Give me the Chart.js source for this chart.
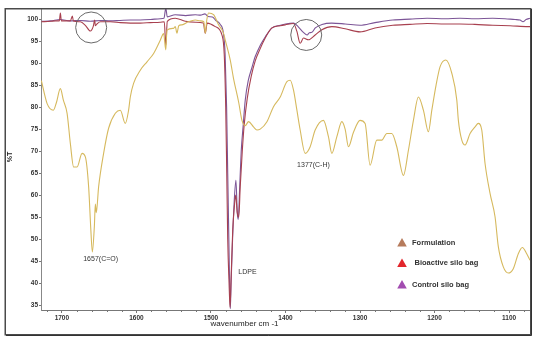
<!DOCTYPE html>
<html><head><meta charset="utf-8">
<script src="https://cdn.jsdelivr.net/npm/chart.js@4.4.1/dist/chart.umd.min.js"></script>
<style>html,body{margin:0;padding:0;background:#fff;}#wrap{width:540px;height:345px;position:relative;}</style>
</head><body><div id="wrap"><canvas id="c" width="540" height="345"></canvas></div>
<script>
// ---- data ----
const X_TICKS = [1700,1600,1500,1400,1300,1200,1100];
const X_MINOR_STEP = 20;
const Y_TICKS = [35,40,45,50,55,60,65,70,75,80,85,90,95,100];
const SERIES_NAMES = ['Formulation','Bioactive silo bag','Control silo bag'];

const W_FORM = [1727.5,1719.8,1711.4,1707.4,1702,1698,1693,1688.6,1684.2,1679.6,
1672.9,1668.5,1664.1,1661.1,1659.1,1656.4,1655.1,1653.8,1650.7,1644,
1637.3,1628.3,1621.6,1614.9,1610.5,1608.2,1603.8,1594.8,1585.8,1576.9,
1568,1563.5,1560.6,1559,1550.1,1547.9,1545.6,1543.2,1538.9,1530.4,
1521,1514.3,1509.6,1507.6,1505.6,1503.2,1496.5,1489.8,1483.5,1480.8,
1474.1,1469.7,1462.7,1458.4,1454,1449.6,1442.9,1438.3,1433.9,1424.9,
1416.1,1407.1,1398.1,1393.7,1389.3,1384.7,1380.3,1373.6,1366.9,1360.2,
1349.1,1342.4,1337.8,1331.1,1324.4,1320,1315.5,1308.8,1300,1293.2,
1286.5,1277.5,1270.8,1264.1,1257.4,1250.7,1241.8,1235.1,1228.4,1221.7,
1215,1208.3,1203.7,1198,1192.6,1185,1176.9,1170.2,1168.1,1163.5,
1159.1,1152.4,1145.7,1141.3,1136.7,1132.3,1125.6,1118.9,1114.5,1107.8,
1101.1,1094.4,1087.7,1082.3,1076.4,1072];
const T_FORM = [86,80.8,79.3,81,84.2,81.6,78.6,71.7,66.4,66.4,
69.5,68.7,61.9,52,47.1,53,58,56,61.9,69.5,
75.2,78.6,79.3,76.3,79.3,82.3,85.4,88.4,90.3,92.2,
95.2,96.7,93,97.5,97.9,98.3,96.8,98.5,98.7,99.4,
99.8,99.6,99.4,96.8,99.8,101.4,101,98.7,97,95.2,
90.7,86.5,81,77,75.8,76.7,75.5,74.8,75,76.7,
80.1,82.3,85.8,86.1,83.9,79.3,74.8,69.5,71,74.8,
77,73.3,69.5,73.3,76.7,75,71,74.3,77,76.3,
66.8,72.5,72.5,74,74,71,64.5,70.2,77,82.3,
79.3,74.4,79.3,85,89.2,90.7,87.7,81.6,77,72.5,
71.4,74,75.5,76.3,74.8,67.2,60.4,55.1,48.3,43.7,
42.3,43.3,46.7,48.1,46.7,45.2];

const W_BIO = [1727.5,1715.4,1708.7,1703.4,1702,1700.7,1688.6,1685.9,1684.6,1675.2,
1668.5,1661.8,1657.8,1656,1655.1,1652.4,1648.4,1635,1621.6,1608.2,
1594.8,1581.4,1568,1562.6,1560.6,1558.6,1547.9,1534.4,1521,1510.3,
1507.6,1505,1494.2,1485.3,1482.2,1480.2,1478.8,1477.5,1475.7,1474.4,
1472.8,1470.8,1468.8,1466.8,1464.7,1462.7,1460.7,1458,1455.4,1451.3,
1446,1440.6,1433.9,1427.2,1418.2,1407.1,1400.4,1389.3,1384.7,1380.3,
1375.9,1369.2,1360.2,1351.2,1337.8,1320,1300,1280,1256,1233,
1210,1186,1166,1146,1122,1098.8,1074.7,1072];
const T_BIO = [99.4,99.5,99.6,99.6,101.4,99.6,99.6,100.7,99.6,99.4,
98.6,97.3,98.4,99.8,98.5,99.0,99.4,99.4,99.2,99.1,
99.1,99.2,99.3,99.4,94,99.5,100.2,99.5,99.3,99.1,
96.8,99.1,98.3,96.4,92,80,65,50,40,34.5,
42,52,57,60,56,55,62,70,76,82,
87,90.5,93.3,95.7,98,98.5,98.7,99.0,97.2,94.5,
95.7,95.3,96.4,97.6,98.3,97.8,97.1,98,98.6,98.8,
99,98.9,98.9,98.8,98.6,98.5,98.3,98.3];

const W_CTRL = [1727,1715,1702,1689,1675,1662,1648,1635,1622,1608,
1595,1581,1568,1563,1560.6,1558.6,1548,1534,1521,1514,
1508,1504,1498,1494,1487.5,1483.5,1481,1479,1477.5,1476,
1475,1474,1473,1471,1469,1466.5,1464.7,1463.4,1461.4,1459.4,
1456.7,1454,1450,1445,1440.6,1434,1427,1418,1407,1400,
1389,1382.6,1376,1371,1368,1364.6,1360,1351,1338,1320,
1300,1280,1256,1233,1210,1186,1166,1146,1122,1105.5,
1092,1085.4,1081.4,1077.3,1072];
const T_CTRL = [99.5,99.6,99.9,99.6,99.7,99.5,99.7,99.6,99.7,99.8,
99.8,99.9,100.1,100.2,102.5,100.5,101,100.8,101,100.9,
101.2,100.6,100.5,99.8,98.8,97,92,80,65,50,
40,34.2,40,50,58,63.4,56,54.5,62,70,
76,81.6,86,89,91.5,94,96,98,98.6,98.9,
99.1,98.2,97,96.4,96.9,97,98,98.8,99.1,98.9,
98.6,99.2,99.8,100,100.2,100.1,100.2,100.1,100.2,100.1,
99.9,99.8,99.4,99.9,100.2];

// annotations (data coordinates)
const LABELS = [
  {text:'1657(C=O)', w:1648, t:45.5},
  {text:'LDPE', w:1451, t:42.6},
  {text:'1377(C-H)', w:1362.5, t:66.8}
];
const CIRCLES = [{w:1660.7, t:98.1}, {w:1372.2, t:96.4}];

// ---- styles ----
const LINE_COLORS = ['#d6b95e', '#a8404f', '#7c5597'];
const LEGEND_COLORS = ['#b67b5c', '#e2262c', '#a24cb0'];
const FONT = '"Liberation Sans", Arial, sans-serif';

function pts(ws, ts){ return ws.map((w,i)=>({x:w, y:ts[i]})); }

const decor = {
  id:'decor',
  beforeDraw(chart){
    const c = chart.ctx; c.save(); c.fillStyle='#fff'; c.fillRect(0,0,chart.width,chart.height); c.restore();
  },
  afterDraw(chart){
    const ctx = chart.ctx, xs = chart.scales.x, ys = chart.scales.y, ca = chart.chartArea;
    ctx.save();
    // minor x ticks
    ctx.strokeStyle = '#777'; ctx.lineWidth = 1;
    for (let v = 1080; v <= 1720; v += X_MINOR_STEP) {
      if (v % 100 === 0) continue;
      const px = Math.round(xs.getPixelForValue(v)) + 0.5;
      ctx.beginPath(); ctx.moveTo(px, ca.bottom); ctx.lineTo(px, ca.bottom + 2); ctx.stroke();
    }
    // circles
    ctx.strokeStyle = '#6a6a6a'; ctx.lineWidth = 1;
    CIRCLES.forEach(cc => {
      ctx.beginPath();
      ctx.arc(xs.getPixelForValue(cc.w), ys.getPixelForValue(cc.t), 15.5, 0, Math.PI*2);
      ctx.stroke();
    });
    // annotation texts
    ctx.fillStyle = '#333'; ctx.font = '7px ' + FONT; ctx.textAlign = 'center'; ctx.textBaseline = 'middle';
    LABELS.forEach(l => ctx.fillText(l.text, xs.getPixelForValue(l.w), ys.getPixelForValue(l.t)));
    // legend
    const lx = 402, ly = [242.5, 263, 284.5];
    SERIES_NAMES.forEach((name, i) => {
      ctx.fillStyle = LEGEND_COLORS[i];
      ctx.beginPath();
      ctx.moveTo(lx, ly[i] - 4.5); ctx.lineTo(lx + 4.8, ly[i] + 4); ctx.lineTo(lx - 4.8, ly[i] + 4); ctx.closePath();
      ctx.fill();
      ctx.fillStyle = '#333'; ctx.font = 'bold 7.5px ' + FONT; ctx.textAlign = 'left';
      ctx.fillText(name, lx + (i === 1 ? 12.5 : 10), ly[i]);
    });
    // axis titles
    ctx.fillStyle = '#222'; ctx.font = '8px ' + FONT; ctx.textAlign = 'center';
    ctx.fillText('wavenumber cm -1', 244.5, 323.5);
    ctx.save(); ctx.translate(10, 157); ctx.rotate(-Math.PI/2);
    ctx.font = 'bold 7px ' + FONT; ctx.fillText('%T', 0, 0); ctx.restore();
    // frame
    ctx.strokeStyle = '#4a4a4a'; ctx.lineWidth = 1.5;
    ctx.strokeRect(5.25, 8.75, 525.5, 326);
    ctx.strokeStyle = '#333'; ctx.lineWidth = 1;
    ctx.beginPath(); ctx.moveTo(6, 335.5); ctx.lineTo(531.5, 335.5); ctx.lineTo(531.5, 9); ctx.stroke();
    ctx.restore();
  }
};

const mk = (label, ws, ts, i) => ({
  label, data: pts(ws, ts), borderColor: LINE_COLORS[i], borderWidth: 1.1,
  pointRadius: 0, cubicInterpolationMode: 'monotone', fill: false
});

new Chart(document.getElementById('c'), {
  type: 'line',
  data: { datasets: [
    mk(SERIES_NAMES[0], W_FORM, T_FORM, 0),
    mk(SERIES_NAMES[1], W_BIO, T_BIO, 1),
    mk(SERIES_NAMES[2], W_CTRL, T_CTRL, 2)
  ]},
  options: {
    responsive: false, animation: false, parsing: true,
    layout: { padding: { left: 0, top: 9, right: 10, bottom: 0 } },
    plugins: { legend: { display: false }, tooltip: { enabled: false } },
    scales: {
      x: {
        type: 'linear', reverse: true, min: 1072, max: 1728,
        afterBuildTicks: s => { s.ticks = X_TICKS.map(v => ({ value: v })); },
        afterFit: s => { s.height = 35; },
        ticks: { autoSkip: false, maxRotation: 0, padding: 1, color: '#333', callback: v => String(v),
                 font: { family: FONT, size: 6.5, weight: 'bold' } },
        grid: { drawOnChartArea: false, drawTicks: true, tickLength: 3, color: '#777' },
        border: { display: true, color: '#777', width: 1 }
      },
      y: {
        min: 33.9, max: 102.3,
        afterBuildTicks: s => { s.ticks = Y_TICKS.map(v => ({ value: v })); },
        afterFit: s => { s.width = 41; },
        ticks: { padding: 1, color: '#333', callback: v => String(v),
                 font: { family: FONT, size: 6.5, weight: 'bold' } },
        grid: { drawOnChartArea: false, drawTicks: true, tickLength: 2, color: '#777' },
        border: { display: true, color: '#888', width: 1, dash: [1, 1] }
      }
    }
  },
  plugins: [decor]
});
</script></body></html>
